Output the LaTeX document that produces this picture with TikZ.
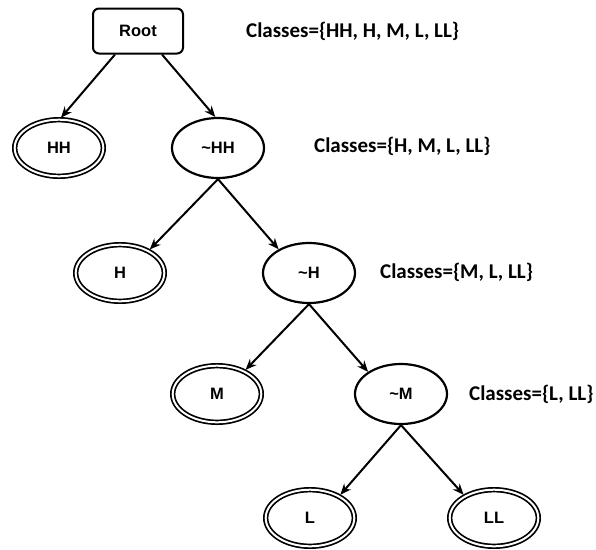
\documentclass[tikz,border=0pt]{standalone}
\usepackage{fontspec}
\setmainfont{Liberation Sans}
\newfontfamily\labelfont{Carlito}
\usetikzlibrary{shapes.geometric,arrows.meta}

\begin{document}
\begin{tikzpicture}[x=1pt,y=-1pt,
  every node/.style={font=\fontsize{16.5}{19}\selectfont\bfseries},
  rootbox/.style={draw, line width=2pt, rounded corners=6pt,
    minimum width=90pt, minimum height=45pt},
  inner/.style={draw, ellipse, line width=2.2pt,
    minimum width=92pt, minimum height=60pt},
  leaf/.style={draw, ellipse, double, double distance=2pt, line width=1.7pt,
    minimum width=88.6pt, minimum height=56.6pt},
  classes/.style={anchor=west, inner sep=0pt,
    font=\labelfont\fontsize{21}{24}\selectfont\bfseries},
  edge/.style={-{Stealth[length=11pt,width=9pt]}, line width=2pt},
  leafedge/.style={edge, shorten >=1.5pt}
]
\useasboundingbox (0,0) rectangle (596,549);

% tree nodes
\node[rootbox] (root) at (138,31) {Root};
\node[leaf]  (hh)  at (59,148)  {HH};
\node[inner] (nhh) at (218,148) {\textasciitilde HH};
\node[leaf]  (h)   at (120,273) {H};
\node[inner] (nh)  at (309,273) {\textasciitilde H};
\node[leaf]  (m)   at (217,394) {M};
\node[inner] (nm)  at (401,394) {\textasciitilde M};
\node[leaf]  (l)   at (310,518) {L};
\node[leaf]  (ll)  at (494,518) {LL};

% remaining classes at each level
\node[classes] (c1) at (246,31)  {Classes=\{HH, H, M, L, LL\}};
\node[classes] (c2) at (314,146) {Classes=\{H, M, L, LL\}};
\node[classes] (c3) at (380,272) {Classes=\{M, L, LL\}};
\node[classes] (c4) at (469,394) {Classes=\{L, LL\}};

% edges
\draw[leafedge] ([xshift=-23pt]root.south) -- (hh.88);
\draw[edge] ([xshift=24pt]root.south) -- (nhh.95);
\draw[leafedge] (nhh.south) -- (h.38);
\draw[edge] (nhh.south) -- (nh.142);
\draw[leafedge] (nh.south) -- (m.40);
\draw[edge] (nh.south) -- (nm.146);
\draw[leafedge] (nm.south) -- (l.37);
\draw[leafedge] (nm.south) -- (ll.143);
\end{tikzpicture}
\end{document}
